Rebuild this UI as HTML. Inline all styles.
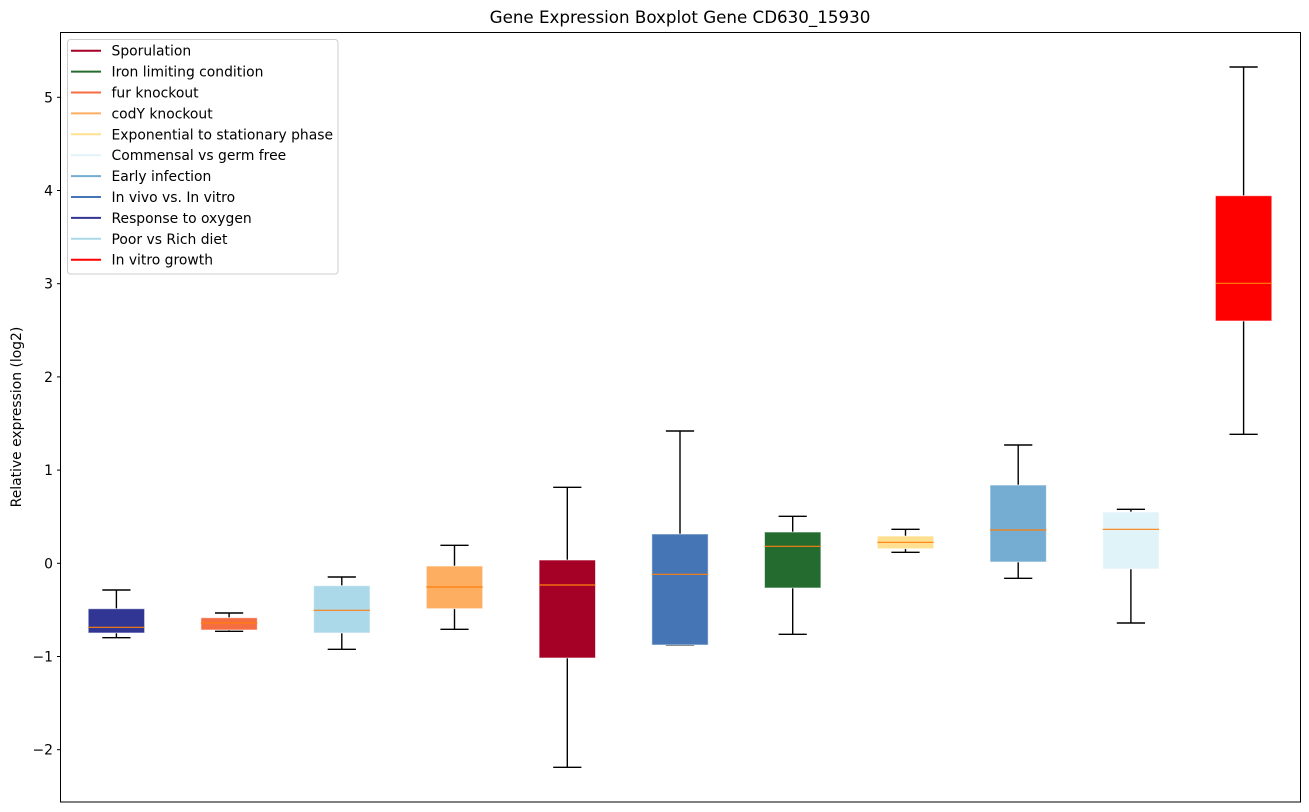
<!DOCTYPE html>
<html><head><meta charset="utf-8"><style>
html,body{margin:0;padding:0;background:#fff;}
svg{display:block;font-family:"DejaVu Sans","Liberation Sans",sans-serif;}
</style></head><body>
<svg width="1309" height="812" viewBox="0 0 1309 812" xmlns="http://www.w3.org/2000/svg">
<rect x="0" y="0" width="1309" height="812" fill="#fff"/>
<text x="680" y="23" font-size="16.7" text-anchor="middle" fill="#000">Gene Expression Boxplot Gene CD630_15930</text>
<g stroke="#000" stroke-width="1.4" fill="none">
<!-- whiskers & caps -->
<line x1="116.4" y1="590" x2="116.4" y2="608.7"/><line x1="116.4" y1="633" x2="116.4" y2="637.7"/><line x1="102.3" y1="590" x2="130.5" y2="590"/><line x1="102.3" y1="637.7" x2="130.5" y2="637.7"/>
<line x1="229.1" y1="613" x2="229.1" y2="617.7"/><line x1="229.1" y1="630" x2="229.1" y2="631.3"/><line x1="215" y1="613" x2="243.2" y2="613"/><line x1="215" y1="631.3" x2="243.2" y2="631.3"/>
<line x1="341.8" y1="577" x2="341.8" y2="585.7"/><line x1="341.8" y1="633" x2="341.8" y2="649.3"/><line x1="327.7" y1="577" x2="355.9" y2="577"/><line x1="327.7" y1="649.3" x2="355.9" y2="649.3"/>
<line x1="454.5" y1="545.3" x2="454.5" y2="566"/><line x1="454.5" y1="608.7" x2="454.5" y2="629.3"/><line x1="440.4" y1="545.3" x2="468.6" y2="545.3"/><line x1="440.4" y1="629.3" x2="468.6" y2="629.3"/>
<line x1="567.3" y1="487.3" x2="567.3" y2="560"/><line x1="567.3" y1="658" x2="567.3" y2="767.3"/><line x1="553.2" y1="487.3" x2="581.4" y2="487.3"/><line x1="553.2" y1="767.3" x2="581.4" y2="767.3"/>
<line x1="680" y1="431" x2="680" y2="534"/><line x1="665.9" y1="431" x2="694.1" y2="431"/><line x1="665.9" y1="645" x2="694.1" y2="645"/>
<line x1="792.7" y1="516.3" x2="792.7" y2="532"/><line x1="792.7" y1="588" x2="792.7" y2="634.3"/><line x1="778.6" y1="516.3" x2="806.8" y2="516.3"/><line x1="778.6" y1="634.3" x2="806.8" y2="634.3"/>
<line x1="905.5" y1="529.3" x2="905.5" y2="536"/><line x1="905.5" y1="548.7" x2="905.5" y2="552.3"/><line x1="891.4" y1="529.3" x2="919.6" y2="529.3"/><line x1="891.4" y1="552.3" x2="919.6" y2="552.3"/>
<line x1="1018.2" y1="445" x2="1018.2" y2="485"/><line x1="1018.2" y1="562" x2="1018.2" y2="578.3"/><line x1="1004.1" y1="445" x2="1032.3" y2="445"/><line x1="1004.1" y1="578.3" x2="1032.3" y2="578.3"/>
<line x1="1130.9" y1="509.3" x2="1130.9" y2="512"/><line x1="1130.9" y1="569" x2="1130.9" y2="623"/><line x1="1116.8" y1="509.3" x2="1145" y2="509.3"/><line x1="1116.8" y1="623" x2="1145" y2="623"/>
<line x1="1243.6" y1="67" x2="1243.6" y2="195.7"/><line x1="1243.6" y1="321" x2="1243.6" y2="434.3"/><line x1="1229.5" y1="67" x2="1257.7" y2="67"/><line x1="1229.5" y1="434.3" x2="1257.7" y2="434.3"/>
</g>
<g stroke="#fff" stroke-opacity="0.6" stroke-width="1">
<rect x="88.2" y="608.7" width="56.4" height="24.3" fill="#313695"/>
<rect x="200.9" y="617.7" width="56.4" height="12.3" fill="#f46d43"/>
<rect x="313.6" y="585.7" width="56.4" height="47.3" fill="#abd9e9"/>
<rect x="426.3" y="566" width="56.4" height="42.7" fill="#fdae61"/>
<rect x="539.1" y="560" width="56.4" height="98" fill="#a50026"/>
<rect x="651.8" y="534" width="56.4" height="111" fill="#4575b4"/>
<rect x="764.5" y="532" width="56.4" height="56" fill="#236b2f"/>
<rect x="877.3" y="536" width="56.4" height="12.7" fill="#fee090"/>
<rect x="990" y="485" width="56.4" height="77" fill="#74add1"/>
<rect x="1102.7" y="512" width="56.4" height="57" fill="#e0f3f8"/>
<rect x="1215.4" y="195.7" width="56.4" height="125.3" fill="#ff0000"/>
</g>
<g stroke="#ff7f0e" stroke-width="1.2">
<line x1="88.2" y1="627.3" x2="144.6" y2="627.3"/>
<line x1="200.9" y1="623" x2="257.3" y2="623"/>
<line x1="313.6" y1="610.3" x2="370" y2="610.3"/>
<line x1="426.3" y1="587" x2="482.7" y2="587"/>
<line x1="539.1" y1="585" x2="595.5" y2="585"/>
<line x1="651.8" y1="574.3" x2="708.2" y2="574.3"/>
<line x1="764.5" y1="546.3" x2="820.9" y2="546.3"/>
<line x1="877.3" y1="542.3" x2="933.7" y2="542.3"/>
<line x1="990" y1="530" x2="1046.4" y2="530"/>
<line x1="1102.7" y1="529.3" x2="1159.1" y2="529.3"/>
<line x1="1215.4" y1="283.3" x2="1271.8" y2="283.3"/>
</g>
<!-- axes frame -->
<rect x="60.5" y="32.5" width="1240" height="769.5" fill="none" stroke="#000" stroke-width="1"/>
<!-- y ticks -->
<g stroke="#000" stroke-width="1">
<line x1="57" y1="97.3" x2="60.5" y2="97.3"/>
<line x1="57" y1="190.5" x2="60.5" y2="190.5"/>
<line x1="57" y1="283.7" x2="60.5" y2="283.7"/>
<line x1="57" y1="376.9" x2="60.5" y2="376.9"/>
<line x1="57" y1="470.1" x2="60.5" y2="470.1"/>
<line x1="57" y1="563.3" x2="60.5" y2="563.3"/>
<line x1="57" y1="656.5" x2="60.5" y2="656.5"/>
<line x1="57" y1="749.7" x2="60.5" y2="749.7"/>
</g>
<g font-size="13.9" text-anchor="end" fill="#000">
<text x="53" y="102.3">5</text>
<text x="53" y="195.5">4</text>
<text x="53" y="288.7">3</text>
<text x="53" y="381.9">2</text>
<text x="53" y="475.1">1</text>
<text x="53" y="568.3">0</text>
<text x="53" y="661.5">−1</text>
<text x="53" y="754.7">−2</text>
</g>
<text transform="translate(21,417) rotate(-90)" font-size="13.9" text-anchor="middle" fill="#000">Relative expression (log2)</text>
<!-- legend -->
<rect x="67.5" y="39.5" width="270.5" height="234.5" rx="3" ry="3" fill="#fff" fill-opacity="0.8" stroke="#cccccc" stroke-width="1"/>
<g stroke-width="2">
<line x1="71" y1="50.7" x2="101" y2="50.7" stroke="#a50026"/>
<line x1="71" y1="71.6" x2="101" y2="71.6" stroke="#236b2f"/>
<line x1="71" y1="92.5" x2="101" y2="92.5" stroke="#f46d43"/>
<line x1="71" y1="113.4" x2="101" y2="113.4" stroke="#fdae61"/>
<line x1="71" y1="134.3" x2="101" y2="134.3" stroke="#fee090"/>
<line x1="71" y1="155.2" x2="101" y2="155.2" stroke="#e0f3f8"/>
<line x1="71" y1="176.1" x2="101" y2="176.1" stroke="#74add1"/>
<line x1="71" y1="197" x2="101" y2="197" stroke="#4575b4"/>
<line x1="71" y1="217.9" x2="101" y2="217.9" stroke="#313695"/>
<line x1="71" y1="238.8" x2="101" y2="238.8" stroke="#abd9e9"/>
<line x1="71" y1="259.7" x2="101" y2="259.7" stroke="#ff0000"/>
</g>
<g font-size="13.9" fill="#000">
<text x="111.5" y="55.7">Sporulation</text>
<text x="111.5" y="76.6">Iron limiting condition</text>
<text x="111.5" y="97.5">fur knockout</text>
<text x="111.5" y="118.4">codY knockout</text>
<text x="111.5" y="139.3">Exponential to stationary phase</text>
<text x="111.5" y="160.2">Commensal vs germ free</text>
<text x="111.5" y="181.1">Early infection</text>
<text x="111.5" y="202">In vivo vs. In vitro</text>
<text x="111.5" y="222.9">Response to oxygen</text>
<text x="111.5" y="243.8">Poor vs Rich diet</text>
<text x="111.5" y="264.7">In vitro growth</text>
</g>
</svg>
</body></html>
